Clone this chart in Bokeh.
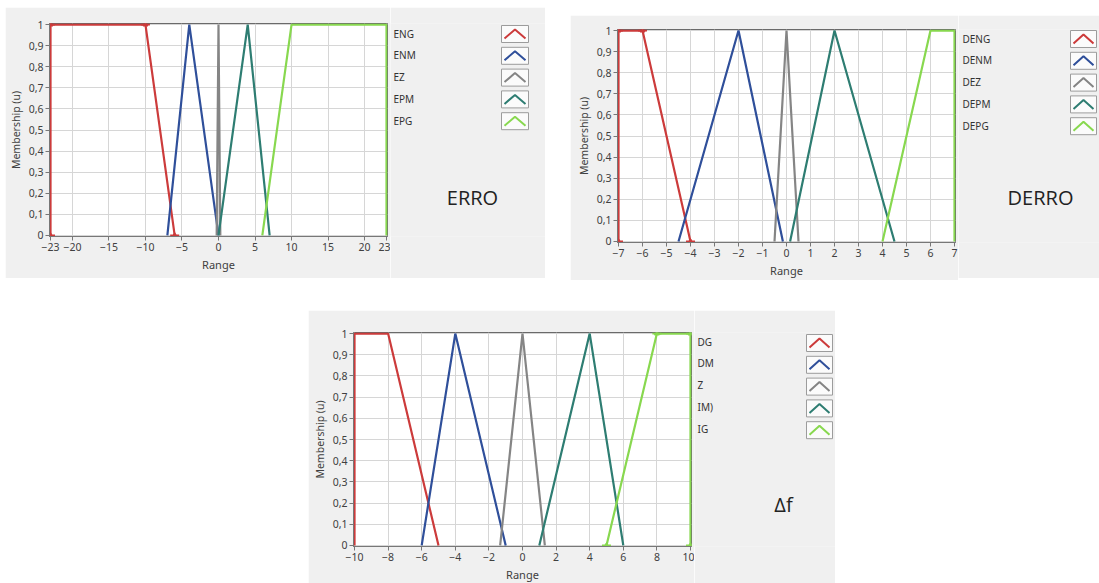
from bokeh.plotting import figure
from bokeh.models import Range1d, FixedTicker, Spacer
from bokeh.layouts import row, column
from bokeh.core.properties import value
from bokeh.embed import file_html
from bokeh.resources import INLINE

# ---------------- data ----------------
series_colors = ["#cc3b3b", "#2f4f9a", "#858585", "#2e7d72", "#88d84f"]

y_ticks = [0, 0.1, 0.2, 0.3, 0.4, 0.5, 0.6, 0.7, 0.8, 0.9, 1]
y_tick_labels = ["0", "0,1", "0,2", "0,3", "0,4", "0,5", "0,6", "0,7", "0,8", "0,9", "1"]

# ERRO
erro_names = ["ENG", "ENM", "EZ", "EPM", "EPG"]
erro_x = [[-23, -23, -10, -6], [-7, -4, 0], [-0.25, 0, 0.25], [0, 4, 7], [6, 10, 23, 23]]
erro_y = [[0, 1, 1, 0], [0, 1, 0], [0, 1, 0], [0, 1, 0], [0, 1, 1, 0]]
erro_xticks = [-23, -20, -15, -10, -5, 0, 5, 10, 15, 20, 23]
erro_mark_x = [-23, -23, -10, -6]
erro_mark_y = [0, 1, 1, 0]

# DERRO
derro_names = ["DENG", "DENM", "DEZ", "DEPM", "DEPG"]
derro_x = [[-7, -7, -6, -4], [-4.5, -2, -0.15], [-0.5, 0, 0.5], [0.15, 2, 4.5], [4, 6, 7, 7]]
derro_y = [[0, 1, 1, 0], [0, 1, 0], [0, 1, 0], [0, 1, 0], [0, 1, 1, 0]]
derro_xticks = [-7, -6, -5, -4, -3, -2, -1, 0, 1, 2, 3, 4, 5, 6, 7]
derro_mark_x = [-7, -7, -6, -4]
derro_mark_y = [0, 1, 1, 0]

# Delta f
df_names = ["DG", "DM", "Z", "IM)", "IG"]
df_x = [[-10, -10, -8, -5], [-6, -4, -1], [-1.33, 0, 1.33], [1, 4, 6], [5, 8, 10, 10]]
df_y = [[0, 1, 1, 0], [0, 1, 0], [0, 1, 0], [0, 1, 0], [0, 1, 1, 0]]
df_xticks = [-10, -8, -6, -4, -2, 0, 2, 4, 6, 8, 10]
df_mark_x = [5, 8, 10, 10]
df_mark_y = [0, 1, 1, 0]

PANEL_BG = "#f0f0f0"
FONT = "Noto Sans"


def make_plot(xs, ys, xticks, mark_x, mark_y, mark_color, bl, br, bt, bb, fh):
    x0, x1 = xticks[0], xticks[-1]
    pad = (x1 - x0) * 0.003
    p = figure(frame_width=338, frame_height=fh,
               x_range=Range1d(x0 - pad, x1 + pad), y_range=Range1d(-0.005, 1.005),
               output_backend="svg", toolbar_location=None,
               min_border_left=bl, min_border_right=br, min_border_top=bt, min_border_bottom=bb)
    p.background_fill_color = "white"
    p.border_fill_color = PANEL_BG
    p.outline_line_color = "#6a6a6a"
    p.outline_line_width = 1
    p.grid.grid_line_color = "#d6d6d6"
    p.grid.grid_line_width = 1

    for x, y, c in zip(xs, ys, series_colors):
        p.line(x, y, line_color=c, line_width=2.2)

    p.scatter(mark_x, mark_y, marker="dash", size=9, line_color=mark_color, line_width=2)
    p.scatter(mark_x, mark_y, marker="triangle", size=5, line_color=mark_color,
              fill_color=mark_color)

    p.xaxis.ticker = FixedTicker(ticks=xticks)
    p.yaxis.ticker = FixedTicker(ticks=y_ticks)
    p.yaxis.major_label_overrides = dict(zip(y_ticks, y_tick_labels))
    p.xaxis.axis_label = "Range"
    p.yaxis.axis_label = "Membership (u)"
    for ax in (p.xaxis[0], p.yaxis[0]):
        ax.axis_line_color = "#777777"
        ax.major_tick_line_color = "#777777"
        ax.major_tick_out = 4
        ax.major_tick_in = 0
        ax.minor_tick_line_color = None
        ax.major_label_text_font = FONT
        ax.major_label_text_font_size = "10.5px"
        ax.major_label_text_color = "#404040"
        ax.major_label_standoff = 2
        ax.axis_label_text_font = FONT
        ax.axis_label_text_font_style = "normal"
        ax.axis_label_text_color = "#404040"
        ax.axis_label_standoff = 3
    p.xaxis.axis_label_text_font_size = "11px"
    p.yaxis.axis_label_text_font_size = "10.5px"
    return p


def make_legend(w, fh, bt, bb, names, lx, ly0, step, ix0, iy0, iw, ih, title, tx, ty):
    # frame aligned with the neighbouring plot frame; coordinates measured from frame top
    p = figure(frame_width=w, frame_height=fh, x_range=Range1d(0, w), y_range=Range1d(fh, 0),
               output_backend="svg", toolbar_location=None,
               min_border_left=0, min_border_right=0, min_border_top=bt, min_border_bottom=bb,
               x_axis_location=None, y_axis_location=None)
    p.grid.visible = False
    p.outline_line_color = None
    p.background_fill_color = PANEL_BG
    p.border_fill_color = PANEL_BG
    n = len(names)
    label_y = [ly0 + i * step for i in range(n)]
    p.text([lx] * n, label_y, text=names, text_font=value(FONT), text_font_size="10px",
           text_color="#333333", text_align="left", text_baseline="middle")
    tops = [iy0 + i * step for i in range(n)]
    bots = [t + ih for t in tops]
    p.quad(left=[ix0] * n, right=[ix0 + iw] * n, top=tops, bottom=bots,
           fill_color="#fbfbfb", line_color="#9c9c9c", line_width=1)
    cx = [[ix0 + 3, ix0 + iw / 2, ix0 + iw - 3] for _ in range(n)]
    cy = [[b - 4, t + 4, b - 4] for t, b in zip(tops, bots)]
    p.multi_line(cx, cy, line_color=series_colors[:n], line_width=2)
    p.text([tx], [ty], text=[title], text_font=value("Open Sans"), text_font_size="20px",
           text_color="#222222", text_align="center", text_baseline="middle")
    return p


# panel 1 (ERRO): grey box x 5..545, y 7..278, frame 49..387 x 23..236
p1 = make_plot(erro_x, erro_y, erro_xticks, erro_mark_x, erro_mark_y, series_colors[0],
               44, 3, 16, 42, 213)
l1 = make_legend(155, 213, 16, 42, erro_names, 3, 10, 21.8, 111, 2, 27, 17, "ERRO", 82, 174)

# panel 2 (DERRO): grey box x 570..1099, y 15..278, frame 617..955 x 29..242
p2 = make_plot(derro_x, derro_y, derro_xticks, derro_mark_x, derro_mark_y, series_colors[0],
               47, 3, 14, 36, 213)
l2 = make_legend(141, 213, 14, 36, derro_names, 4, 9, 21.8, 112, 1, 26, 17, "DERRO", 82, 168)

# panel 3 (delta f): grey box x 308..835, y 308..582, frame 353..691 x 330..544
p3 = make_plot(df_x, df_y, df_xticks, df_mark_x, df_mark_y, series_colors[4],
               45, 3, 22, 38, 214)
l3 = make_legend(141, 214, 22, 38, df_names, 3, 9, 21.8, 112, 2, 26, 17, "\u0394f", 89, 172)

row1 = row(Spacer(width=5, height=278),
           column(Spacer(width=540, height=7), row(p1, l1)),
           Spacer(width=25, height=278),
           column(Spacer(width=529, height=15), row(p2, l2)))
row3 = row(Spacer(width=308, height=274), p3, l3)
layout = column(row1, Spacer(width=1099, height=30), row3)

open("out.html", "w").write(file_html(layout, INLINE))
